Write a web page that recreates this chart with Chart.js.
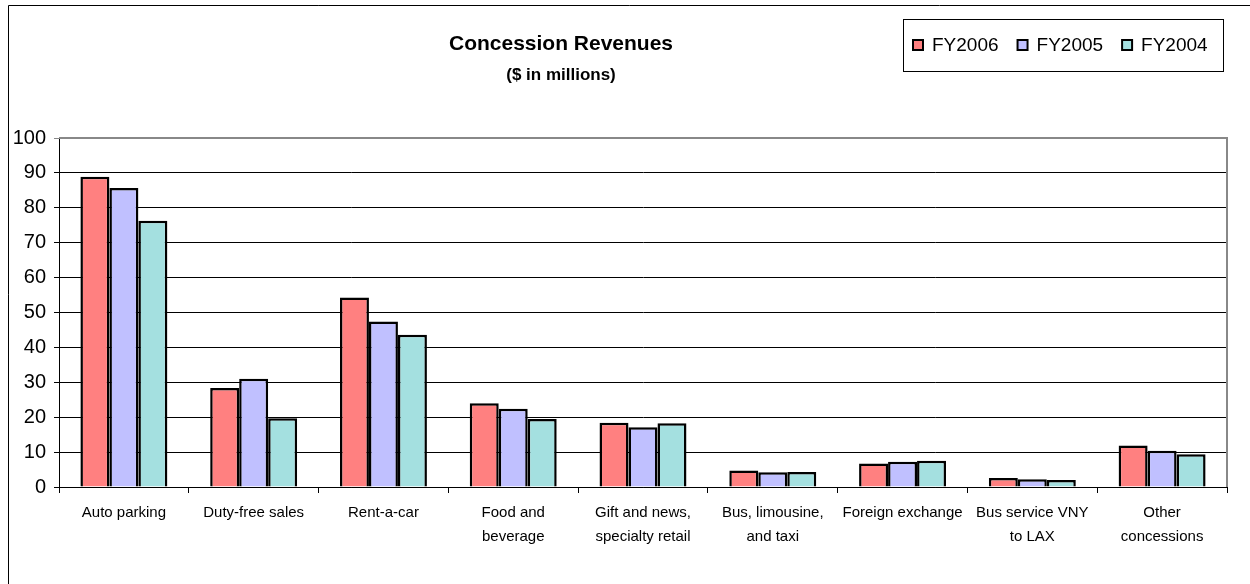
<!DOCTYPE html>
<html>
<head>
<meta charset="utf-8">
<script src="https://cdn.jsdelivr.net/npm/chart.js@4.4.1/dist/chart.umd.min.js"></script>
<style>
  html, body { margin: 0; padding: 0; background: #fff; }
  #wrap { width: 1250px; height: 584px; position: relative; }
</style>
</head>
<body>
<div id="wrap"><canvas id="revenues"></canvas></div>
<script>
// concession revenue by category, $ millions
var categories = [
  "Auto parking",
  "Duty-free sales",
  "Rent-a-car",
  ["Food and", "beverage"],
  ["Gift and news,", "specialty retail"],
  ["Bus, limousine,", "and taxi"],
  "Foreign exchange",
  ["Bus service VNY", "to LAX"],
  ["Other", "concessions"]
];
var fy2006 = [88.9, 28.4, 54.3, 24.0, 18.4, 4.7, 6.7, 2.6, 11.9];
var fy2005 = [85.7, 31.0, 47.4, 22.4, 17.1, 4.2, 7.2, 2.2, 10.4];
var fy2004 = [76.3, 19.7, 43.6, 19.5, 18.3, 4.3, 7.5, 2.0, 9.4];
var seriesNames = ["FY2006", "FY2005", "FY2004"];
var yTicks = [0, 10, 20, 30, 40, 50, 60, 70, 80, 90, 100];

var titleText = "Concession Revenues";
var subtitleText = "($ in millions)";

// title, boxed legend and outer frame drawn straight onto the canvas
var decorations = {
  id: "decorations",
  beforeDraw: function(chart) {
    var c = chart.ctx;
    c.save();
    c.fillStyle = "#fff";
    c.fillRect(0, 0, chart.width, chart.height);
    c.restore();
  },
  afterDraw: function(chart) {
    var c = chart.ctx;
    var a = chart.chartArea;
    c.save();

    // outer frame
    c.strokeStyle = "#000";
    c.lineWidth = 1;
    c.beginPath();
    c.moveTo(8.5, chart.height);
    c.lineTo(8.5, 5.5);
    c.lineTo(chart.width, 5.5);
    c.stroke();

    // plot area border (top / right)
    c.strokeStyle = "#888";
    c.lineWidth = 2;
    c.beginPath();
    c.moveTo(a.left, a.top);
    c.lineTo(a.right, a.top);
    c.lineTo(a.right, a.bottom);
    c.stroke();

    // titles
    c.fillStyle = "#000";
    c.textAlign = "center";
    c.textBaseline = "middle";
    c.font = "bold 21px 'Liberation Sans', Arial, sans-serif";
    c.fillText(titleText, 561, 44);
    c.font = "bold 17px 'Liberation Sans', Arial, sans-serif";
    c.fillText(subtitleText, 561, 75);

    // legend box
    c.strokeStyle = "#000";
    c.lineWidth = 1;
    c.strokeRect(903.5, 19.5, 320, 52);
    c.font = "19px 'Liberation Sans', Arial, sans-serif";
    c.textAlign = "left";
    var x = 913;
    chart.data.datasets.forEach(function(ds) {
      c.fillStyle = ds.backgroundColor;
      c.fillRect(x, 40, 10, 10);
      c.strokeStyle = "#000";
      c.lineWidth = 2;
      c.strokeRect(x, 40, 10, 10);
      c.fillStyle = "#000";
      c.fillText(ds.label, x + 19, 46);
      x += c.measureText(ds.label).width + 38;
    });
    c.restore();
  }
};

function makeSet(label, values, color) {
  return {
    label: label,
    data: values,
    backgroundColor: color,
    borderColor: "#000",
    borderWidth: 2.5,
    categoryPercentage: 0.67,
    barPercentage: 1.0
  };
}

new Chart(document.getElementById("revenues"), {
  type: "bar",
  data: {
    labels: categories,
    datasets: [
      makeSet(seriesNames[0], fy2006, "#ff8080"),
      makeSet(seriesNames[1], fy2005, "#c0c0ff"),
      makeSet(seriesNames[2], fy2004, "#a4e0e0")
    ]
  },
  options: {
    responsive: true,
    maintainAspectRatio: false,
    animation: false,
    layout: { padding: { top: 138, right: 23, bottom: 0, left: 0 } },
    plugins: {
      legend: { display: false },
      title: { display: false },
      tooltip: { enabled: false }
    },
    scales: {
      x: {
        grid: {
          offset: true,
          drawOnChartArea: false,
          drawTicks: true,
          tickLength: 6,
          color: "#000"
        },
        border: { color: "#000", width: 1 },
        ticks: {
          color: "#000",
          padding: 8,
          maxRotation: 0,
          autoSkip: false,
          font: { family: "'Liberation Sans', Arial, sans-serif", size: 15, lineHeight: 1.6 }
        },
        afterFit: function(scale) { scale.height = 97; }
      },
      y: {
        min: yTicks[0],
        max: yTicks[yTicks.length - 1],
        afterBuildTicks: function(scale) {
          scale.ticks = yTicks.map(function(v) { return { value: v }; });
        },
        grid: {
          color: function(ctx) { return ctx.tick && ctx.tick.value === 100 ? "#888" : "#000"; },
          tickLength: 5,
          lineWidth: 1
        },
        border: { color: "#000", width: 1 },
        ticks: {
          color: "#000",
          padding: 8,
          font: { family: "'Liberation Sans', Arial, sans-serif", size: 20 }
        },
        afterFit: function(scale) { scale.width = 59; }
      }
    }
  },
  plugins: [decorations]
});
</script>
</body>
</html>
